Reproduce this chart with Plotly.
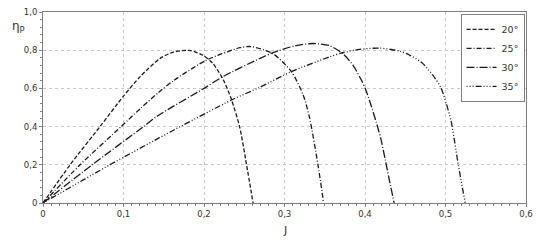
import plotly.graph_objects as go

# ---- data ----
J20 = [0, 0.034, 0.071, 0.100, 0.121, 0.145, 0.162, 0.182, 0.199, 0.211, 0.224, 0.234, 0.2445, 0.2528, 0.261]
E20 = [0, 0.202, 0.401, 0.560, 0.663, 0.756, 0.790, 0.799, 0.773, 0.731, 0.645, 0.543, 0.395, 0.202, 0]

J25 = [0, 0.046, 0.097, 0.121, 0.143, 0.162, 0.203, 0.2445, 0.258, 0.2857, 0.3085, 0.323, 0.331, 0.3415, 0.3486]
E25 = [0, 0.200, 0.400, 0.495, 0.577, 0.640, 0.748, 0.813, 0.819, 0.782, 0.688, 0.568, 0.449, 0.202, 0]

J30 = [0, 0.061, 0.125, 0.143, 0.200, 0.224, 0.269, 0.2857, 0.313, 0.335, 0.356, 0.3725, 0.385, 0.3953,
       0.4015, 0.4077, 0.4139, 0.4195, 0.425, 0.4305, 0.4362]
E30 = [0, 0.200, 0.400, 0.458, 0.600, 0.663, 0.756, 0.787, 0.823, 0.835, 0.824, 0.782, 0.722, 0.645,
       0.586, 0.509, 0.423, 0.340, 0.230, 0.115, 0]

J35 = [0, 0.083, 0.143, 0.158, 0.236, 0.269, 0.3085, 0.356, 0.3725, 0.393, 0.418, 0.443, 0.4552, 0.4716,
       0.484, 0.4944, 0.5006, 0.5068, 0.511, 0.5159, 0.5245]
E35 = [0, 0.200, 0.338, 0.372, 0.543, 0.605, 0.688, 0.765, 0.787, 0.804, 0.811, 0.795, 0.775, 0.731,
       0.671, 0.603, 0.526, 0.432, 0.330, 0.200, 0]

names = ["20°", "25°", "30°", "35°"]

x_tickvals = [0, 0.1, 0.2, 0.3, 0.4, 0.5, 0.6]
x_ticktext = ["0", "0,1", "0,2", "0,3", "0,4", "0,5", "0,6"]
y_tickvals = [0, 0.2, 0.4, 0.6, 0.8, 1.0]
y_ticktext = ["0", "0,2", "0,4", "0,6", "0,8", "1,0"]

dashes = ["4px,2px", "5px,2px,1px,2px", "8px,2px,1px,2px", "1px,2px,1px,2px,1px,2px,6px,2px"]

series = [(J20, E20), (J25, E25), (J30, E30), (J35, E35)]

fig = go.Figure()
for (xs, ys), nm, d in zip(series, names, dashes):
    fig.add_trace(go.Scatter(x=xs, y=ys, mode="lines", name=nm,
                             line=dict(color="#1a1a1a", width=1.3, dash=d, shape="spline", smoothing=0.7)))

font = "DejaVu Sans"
axis_common = dict(showline=True, linecolor="#808080", linewidth=1, mirror=True,
                   showgrid=True, gridcolor="#c8c8c8", griddash="dot", gridwidth=1,
                   zeroline=False, ticks="outside", ticklen=3, tickcolor="#808080",
                   tickfont=dict(family=font, size=8.5, color="#333"))

fig.update_xaxes(range=[0, 0.6], tickvals=x_tickvals, ticktext=x_ticktext,
                 minor=dict(dtick=0.01, ticklen=2, tickcolor="#808080", showgrid=False, ticks="outside"),
                 **axis_common)
fig.update_yaxes(range=[0, 1.0], tickvals=y_tickvals, ticktext=y_ticktext,
                 minor=dict(dtick=0.04, ticklen=2, tickcolor="#808080", showgrid=False, ticks="outside"),
                 **axis_common)

fig.add_annotation(text="J", xref="paper", yref="paper", x=0.5, y=-0.1, yanchor="top",
                   showarrow=False, font=dict(family=font, size=11, color="#333"))
fig.add_annotation(text="η<sub>P</sub>", xref="paper", yref="paper", x=-0.05, y=0.92,
                   xanchor="center", yanchor="middle",
                   showarrow=False, font=dict(family=font, size=12, color="#333"))

fig.update_layout(
    width=540, height=243,
    margin=dict(l=43, r=13, t=7, b=40),
    plot_bgcolor="white", paper_bgcolor="white",
    showlegend=True,
    legend=dict(x=0.997, y=0.99, xanchor="right", yanchor="top",
                bgcolor="white", bordercolor="#808080", borderwidth=1,
                font=dict(family=font, size=9.5, color="#333"),
                tracegroupgap=0, itemwidth=30),
)

fig.write_html("out.html")
